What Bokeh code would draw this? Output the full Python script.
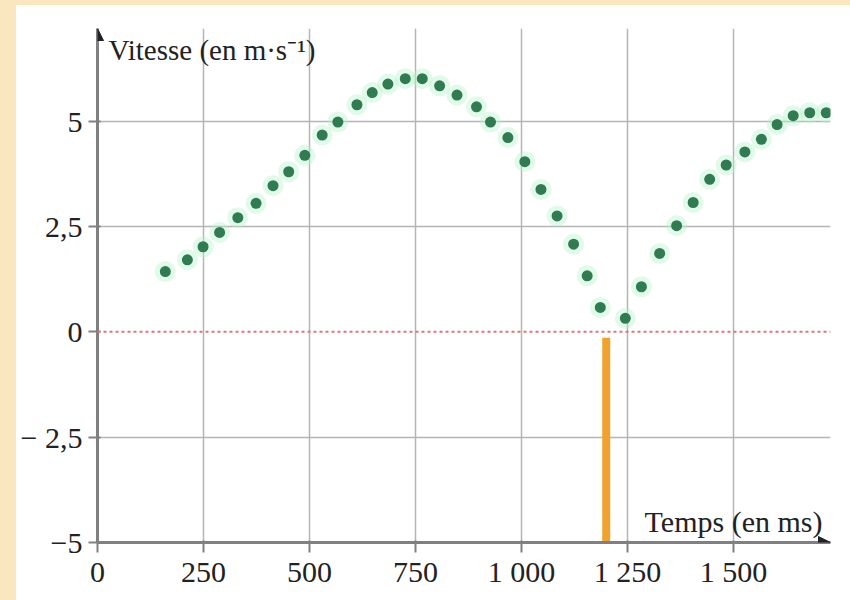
from bokeh.plotting import figure
from bokeh.models import (FixedTicker, Span, Label, Arrow, NormalHead, Range1d,
                          ColumnDataSource, Spacer)
from bokeh.layouts import row, column
from bokeh.embed import file_html
from bokeh.resources import INLINE

# ---- data ----
time_ms = [160, 212, 249, 288, 331, 374, 414, 451, 489, 530,
           567, 612, 648, 685, 726, 766, 807, 848, 894, 927,
           968, 1008, 1046, 1084, 1123, 1155, 1186, 1245, 1283, 1326,
           1366, 1405, 1444, 1483, 1527, 1566, 1603, 1641, 1680, 1719]
speed = [1.43, 1.71, 2.02, 2.36, 2.71, 3.05, 3.47, 3.80, 4.19, 4.67,
         4.98, 5.39, 5.68, 5.88, 6.01, 6.01, 5.84, 5.62, 5.34, 4.98,
         4.61, 4.04, 3.38, 2.75, 2.08, 1.33, 0.58, 0.32, 1.07, 1.86,
         2.52, 3.07, 3.62, 3.96, 4.27, 4.57, 4.92, 5.13, 5.20, 5.20]

marker_time = [1200]
marker_top = [-0.14]
marker_bottom = [-5.14]

x_ticks = [0, 250, 500, 750, 1000, 1250, 1500]
x_tick_labels = ["0", "250", "500", "750", "1 000", "1 250", "1 500"]
y_ticks = [-5, -2.5, 0, 2.5, 5]
y_tick_labels = ["\u22125", "\u2212 2,5", "0", "2,5", "5"]

x_title = "Temps (en ms)"
y_title = "Vitesse (en m\u00b7s\u207b\u00b9)"

X_MAX = 1729
Y_MIN, Y_MAX = -5, 7.2

FONT = "Liberation Serif"
BEIGE = "#fbe7bf"
AXIS_COL = "#808080"
TEXT_COL = "#222222"

p = figure(width=834, height=595, output_backend="svg", toolbar_location=None,
           x_range=Range1d(0, X_MAX), y_range=Range1d(Y_MIN, Y_MAX),
           min_border_left=81, min_border_right=20, min_border_top=23,
           min_border_bottom=58)
p.background_fill_color = "white"
p.border_fill_color = "white"
p.outline_line_color = None

# axes
for ax in (p.xaxis[0], p.yaxis[0]):
    ax.axis_line_color = AXIS_COL
    ax.axis_line_width = 3
    ax.major_tick_line_color = AXIS_COL
    ax.major_tick_line_width = 2
    ax.minor_tick_line_color = None
    ax.major_label_text_font = FONT
    ax.major_label_text_color = TEXT_COL
    ax.major_label_text_font_size = "30px"

p.xaxis.ticker = FixedTicker(ticks=x_ticks)
p.xaxis.major_label_overrides = dict(zip(x_ticks, x_tick_labels))
p.xaxis.major_tick_out = 10
p.xaxis.major_tick_in = 2
p.xaxis.major_label_standoff = 2

p.yaxis.ticker = FixedTicker(ticks=y_ticks)
p.yaxis.major_label_overrides = dict(zip(y_ticks, y_tick_labels))
p.yaxis.major_tick_out = 9
p.yaxis.major_tick_in = 3
p.yaxis.major_label_standoff = 6

# grid
p.xgrid.ticker = FixedTicker(ticks=x_ticks[1:])
p.ygrid.ticker = FixedTicker(ticks=[t for t in y_ticks if t not in (-5, 0)])
for g in (p.xgrid[0], p.ygrid[0]):
    g.grid_line_color = "#b5b5b5"
    g.grid_line_width = 1.5

# zero line
p.add_layout(Span(location=0, dimension="width", line_color="#d77a7a",
                  line_dash="3 3", line_width=2))

# data points with halo
src = ColumnDataSource(dict(t=time_ms, v=speed))
p.scatter("t", "v", source=src, size=21, fill_color="#b4f2c8", fill_alpha=0.4,
          line_color=None)
p.scatter("t", "v", source=src, size=11, fill_color="#2f7b52", line_color=None)

# orange marker
p.segment(x0=marker_time, y0=marker_bottom, x1=marker_time, y1=marker_top,
          line_color="#f0a22e", line_width=8, line_cap="butt")

# arrow heads on axes
p.add_layout(Arrow(end=NormalHead(size=12, fill_color="#222222", line_color="#222222"),
                   x_start=0, y_start=Y_MAX - 0.3, x_end=0, y_end=Y_MAX,
                   line_alpha=0))
p.add_layout(Arrow(end=NormalHead(size=12, fill_color="#222222", line_color="#222222"),
                   x_start=X_MAX - 30, y_start=Y_MIN, x_end=X_MAX, y_end=Y_MIN,
                   line_alpha=0))

# titles
p.add_layout(Label(x=0, y=Y_MAX, x_offset=11, y_offset=-21, text=y_title,
                   text_font=FONT, text_font_size="29px", text_color=TEXT_COL,
                   text_align="left", text_baseline="alphabetic"))
p.add_layout(Label(x=1710, y=Y_MIN, y_offset=21, text=x_title,
                   text_font=FONT, text_font_size="30px", text_color=TEXT_COL,
                   text_align="right", text_baseline="alphabetic"))

top_strip = Spacer(width=850, height=5, styles={"background-color": BEIGE})
left_strip = Spacer(width=16, height=595, styles={"background-color": BEIGE})
layout = column(top_strip, row(left_strip, p))

open("out.html", "w").write(file_html(layout, INLINE))
